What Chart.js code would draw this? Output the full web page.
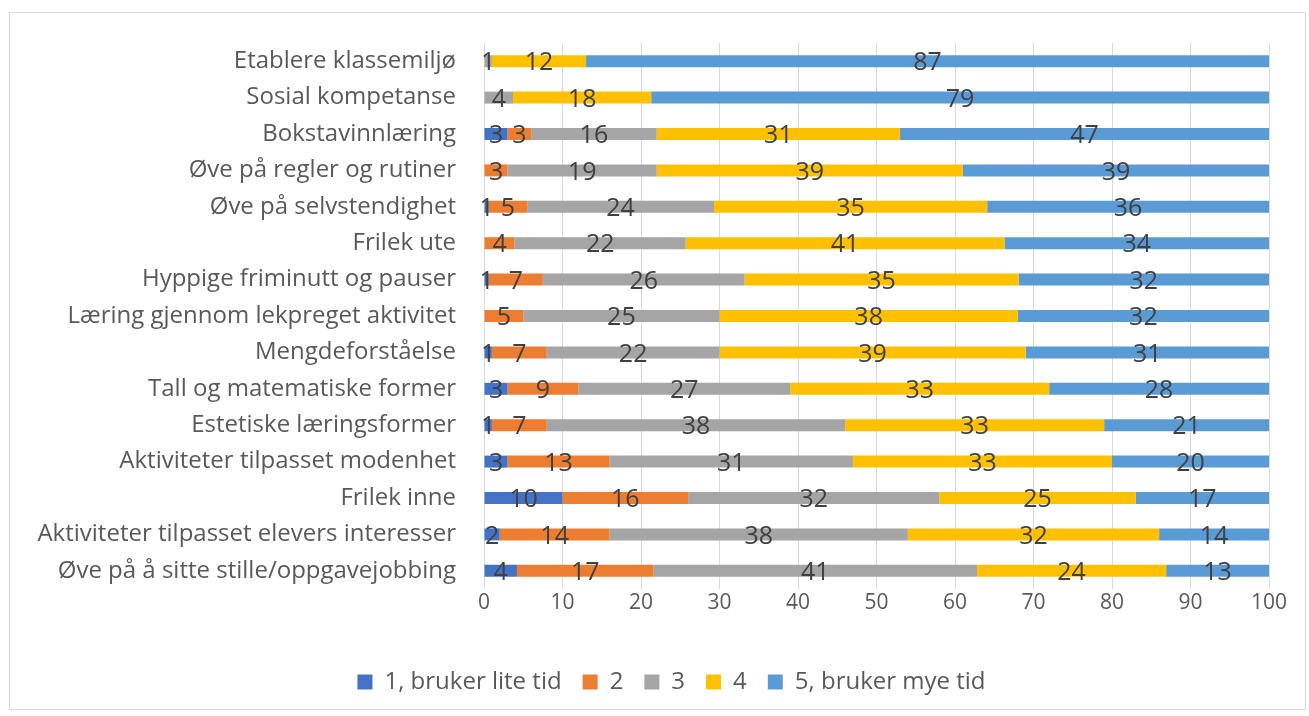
<!DOCTYPE html>
<html>
<head>
<meta charset="utf-8">
<script src="https://cdn.jsdelivr.net/npm/chart.js@4/dist/chart.umd.min.js"></script>
<style>
  html, body { margin: 0; padding: 0; background: #fff; }
  #wrap { position: absolute; left: 0; top: 0; width: 1309px; height: 716px; }
</style>
</head>
<body>
<div id="wrap"><canvas id="chart" width="1309" height="716"></canvas></div>
<script>
var categories = [
  "Etablere klassemiljø",
  "Sosial kompetanse",
  "Bokstavinnlæring",
  "Øve på regler og rutiner",
  "Øve på selvstendighet",
  "Frilek ute",
  "Hyppige friminutt og pauser",
  "Læring gjennom lekpreget aktivitet",
  "Mengdeforståelse",
  "Tall og matematiske former",
  "Estetiske læringsformer",
  "Aktiviteter tilpasset modenhet",
  "Frilek inne",
  "Aktiviteter tilpasset elevers interesser",
  "Øve på å sitte stille/oppgavejobbing"
];

var seriesNames = ["1, bruker lite tid", "2", "3", "4", "5, bruker mye tid"];
var seriesColors = ["#4472C4", "#ED7D31", "#A5A5A5", "#FFC000", "#5B9BD5"];

// percent per category (labels show rounded values)
var s1 = [0,   0,    3,  0,    0.6,  0,    0.6,  0,  1,  3,  1,  3,  10, 2,  4.2];
var s2 = [0,   0,    3,  3,    4.9,  3.9,  6.9,  5,  7,  9,  7,  13, 16, 14, 17.4];
var s3 = [1,   3.7,  16, 19,   23.8, 21.8, 25.7, 25, 22, 27, 38, 31, 32, 38, 41.2];
var s4 = [12,  17.6, 31, 39,   34.8, 40.6, 34.9, 38, 39, 33, 33, 33, 25, 32, 24.1];
var s5 = [87,  78.7, 47, 39,   35.9, 33.7, 31.9, 32, 31, 28, 21, 20, 17, 14, 13.1];

var xTicks = [0, 10, 20, 30, 40, 50, 60, 70, 80, 90, 100];

var allSeries = [s1, s2, s3, s4, s5];
var datasets = allSeries.map(function (vals, i) {
  return {
    label: seriesNames[i],
    data: vals,
    backgroundColor: seriesColors[i],
    borderWidth: 0,
    barPercentage: 0.33,
    categoryPercentage: 1.0
  };
});

var FONT = "'Open Sans', 'Noto Sans', sans-serif";

var frame = {
  id: "frame",
  beforeDraw: function (chart) {
    var ctx = chart.ctx;
    ctx.save();
    ctx.strokeStyle = "#d9d9d9";
    ctx.lineWidth = 1;
    ctx.strokeRect(9.5, 12.5, 1296, 697);
    ctx.restore();
  }
};

// legend sits a bit right of the canvas centre in the original
var legendShift = {
  id: "legendShift",
  afterLayout: function (chart) {
    if (chart.legend) {
      chart.legend.left += 32;
      chart.legend.right += 32;
    }
  }
};

var barLabels = {
  id: "barLabels",
  afterDatasetsDraw: function (chart) {
    var ctx = chart.ctx;
    ctx.save();
    ctx.font = "25px " + FONT;
    ctx.fillStyle = "#404040";
    ctx.textAlign = "center";
    ctx.textBaseline = "middle";
    chart.data.datasets.forEach(function (ds, i) {
      var meta = chart.getDatasetMeta(i);
      meta.data.forEach(function (bar, j) {
        var v = ds.data[j];
        if (!v) return;
        var cx = (bar.x + bar.base) / 2;
        ctx.fillText(String(Math.round(v)), cx, bar.y + 2);
      });
    });
    ctx.restore();
  }
};

new Chart(document.getElementById("chart"), {
  type: "bar",
  data: { labels: categories, datasets: datasets },
  plugins: [frame, legendShift, barLabels],
  options: {
    indexAxis: "y",
    responsive: false,
    animation: false,
    layout: { padding: { top: 43, right: 40, bottom: 12, left: 10 } },
    scales: {
      x: {
        stacked: true,
        min: 0,
        max: 100,
        afterBuildTicks: function (scale) {
          scale.ticks = xTicks.map(function (v) { return { value: v }; });
        },
        afterFit: function (scale) { scale.height = 60; },
        grid: { color: "#d9d9d9", lineWidth: 1, drawTicks: false },
        border: { display: false },
        ticks: { color: "#595959", font: { family: FONT, size: 21 }, padding: 1 }
      },
      y: {
        stacked: true,
        afterFit: function (scale) { scale.width = 474; },
        grid: { display: false, drawTicks: false },
        border: { display: false },
        ticks: { color: "#595959", font: { family: FONT, size: 24 }, padding: 28, autoSkip: false }
      }
    },
    plugins: {
      legend: {
        position: "bottom",
        labels: {
          color: "#595959",
          font: { family: FONT, size: 24 },
          boxWidth: 15,
          boxHeight: 15,
          padding: 21
        }
      },
      tooltip: { enabled: false }
    }
  }
});
</script>
</body>
</html>
